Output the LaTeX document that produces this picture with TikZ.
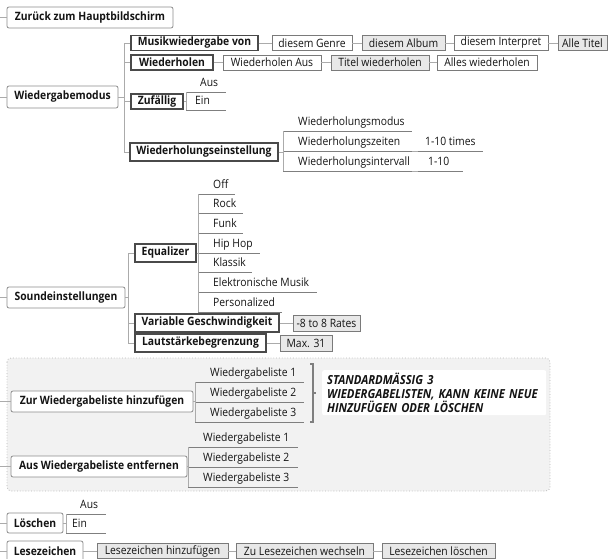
\documentclass[tikz,border=0pt]{standalone}
\usepackage{fontspec}
\setmainfont{Open Sans}[FakeStretch=0.9]
\definecolor{txt}{HTML}{141414}
\definecolor{cgray}{HTML}{ABABAB}
\definecolor{ugray}{HTML}{7F7F7F}
\definecolor{tgray}{HTML}{8C8C8C}
\definecolor{dgray}{HTML}{4A4A4A}
\definecolor{lgray}{HTML}{7A7A7A}
\definecolor{lfill}{HTML}{E8E8E8}
\definecolor{regfill}{HTML}{F2F2F2}
\definecolor{regline}{HTML}{B8B8B8}
\newcommand\utx[3]{\makebox[#2pt][l]{\hspace*{#1pt}#3}}
\begin{document}
\begin{tikzpicture}[x=1pt,y=-1pt,
  every node/.style={text=txt},
  font=\fontsize{11.5}{13}\selectfont,
  conn/.style={draw=cgray, line width=0.8pt},
  uline/.style={draw=ugray, line width=0.9pt},
  topbox/.style={draw=tgray, fill=white, rounded corners=2pt, line width=0.8pt, inner sep=0pt, font=\fontsize{11.5}{13}\selectfont\bfseries},
  subbox/.style={draw=dgray, fill=white, line width=1.2pt, inner sep=0pt, font=\fontsize{11.5}{13}\selectfont\bfseries},
  leafbox/.style={draw=lgray, fill=white, line width=0.8pt, inner sep=0pt},
  leafgray/.style={leafbox, fill=lfill},
  ut/.style={anchor=south west, inner sep=0pt, text height=8pt, text depth=5pt},
  brk/.style={draw=ugray, line width=1.2pt},
  notebox/.style={fill=white, rounded corners=2pt, inner xsep=5pt, inner ysep=0pt, anchor=north west, minimum width=224, minimum height=45, text width=214pt, align=left, font=\fontsize{12.5}{14}\selectfont\bfseries\itshape}
]
\useasboundingbox (0,0) rectangle (611,559);

% grouped region
\draw[dotted, draw=regline, fill=regfill, rounded corners=4pt, line width=0.8pt] (7,358) rectangle (550,491);

% top-level topics
\node[topbox, minimum width=166, minimum height=21] (zur) at (90,17.5) {Zurück zum Hauptbildschirm};
\node[topbox, minimum width=111, minimum height=22] (wgm) at (62.5,97) {Wiedergabemodus};
\node[topbox, minimum width=118, minimum height=21] (sound) at (66,297.5) {Soundeinstellungen};
\node[topbox, minimum width=182, minimum height=21] (zwl) at (102,401.5) {Zur Wiedergabeliste hinzufügen};
\node[topbox, minimum width=176, minimum height=21] (awl) at (99,466.5) {Aus Wiedergabeliste entfernen};
\node[topbox, minimum width=56, minimum height=20] (losch) at (35,523) {Löschen};
\node[topbox, minimum width=76, minimum height=20] (lese) at (45,551) {Lesezeichen};

% left stubs
\coordinate (s1) at (0,17.5);
\coordinate (s2) at (0,97);
\coordinate (s3) at (0,297.5);
\coordinate (s4) at (0,401.5);
\coordinate (s5) at (0,466.5);
\coordinate (s6) at (0,523);
\coordinate (s7) at (0,551);
\draw[conn] (s1) -- (zur.west);
\draw[conn] (s2) -- (wgm.west);
\draw[conn] (s3) -- (sound.west);
\draw[conn] (s4) -- (zwl.west);
\draw[conn] (s5) -- (awl.west);
\draw[conn] (s6) -- (losch.west);
\draw[conn] (s7) -- (lese.west);

% Wiedergabemodus
\node[subbox, minimum width=127, minimum height=15] (mwv) at (194.5,43) {Musikwiedergabe von};
\node[subbox, minimum width=82, minimum height=15] (wdh) at (172,62.5) {Wiederholen};
\node[subbox, minimum width=52, minimum height=15] (zuf) at (157,101.5) {Zufällig};
\node[subbox, minimum width=148, minimum height=18] (wde) at (204,152) {Wiederholungseinstellung};
\coordinate (wgmB) at (124,97);
\draw[conn] (wgm.east) -- (wgmB);
\draw[conn] (wgmB) |- (mwv.west);
\draw[conn] (wgmB) |- (wdh.west);
\draw[conn] (wgmB) |- (zuf.west);
\draw[conn] (wgmB) |- (wde.west);

\node[leafbox, minimum width=80, minimum height=15] (dg) at (312,43) {diesem Genre};
\node[leafgray, minimum width=83, minimum height=15] (da) at (403.5,43) {diesem Album};
\node[leafbox, minimum width=94, minimum height=15] (di) at (501,43) {diesem Interpret};
\node[leafgray, minimum width=49, minimum height=15] (at) at (582.5,43) {Alle Titel};
\draw[conn] (mwv.east) -- (dg.west);
\draw[conn] (dg.east) -- (da.west);
\draw[conn] (da.east) -- (di.west);
\draw[conn] (di.east) -- (at.west);

\node[leafbox, minimum width=98, minimum height=15] (wa) at (272,62.5) {Wiederholen Aus};
\node[leafgray, minimum width=98, minimum height=15] (tw) at (380,62.5) {Titel wiederholen};
\node[leafbox, minimum width=100, minimum height=15] (aw) at (487,62.5) {Alles wiederholen};
\draw[conn] (wdh.east) -- (wa.west);
\draw[conn] (wa.east) -- (tw.west);
\draw[conn] (tw.east) -- (aw.west);

\node[ut] (zaus) at (186,92) {\utx{14}{40}{Aus}};
\node[ut] (zein) at (186,110) {\utx{9}{40}{Ein}};
\draw[uline] (zaus.south west) -- (zaus.south east);
\draw[uline] (zein.south west) -- (zein.south east);
\coordinate (zufB) at (186,101.5);
\draw[conn] (zuf.east) -- (zufB);
\draw[conn] (zaus.south west) -- (zein.south west);

\node[ut] (wmod) at (283,131) {\utx{15}{129}{Wiederholungsmodus}};
\node[ut] (wzeit) at (283,151) {\utx{15}{129}{Wiederholungszeiten}};
\node[ut] (wint) at (283,171) {\utx{15}{129}{Wiederholungsintervall}};
\node[ut] (t110) at (418,151) {\utx{7}{65}{1-10 times}};
\node[ut] (i110) at (418,171) {\utx{10}{45}{1-10}};
\foreach \n in {wmod,wzeit,wint,t110,i110}{\draw[uline] (\n.south west) -- (\n.south east);}
\coordinate (wdeB) at (283,152);
\draw[conn] (wde.east) -- (wdeB);
\draw[conn] (wmod.south west) -- (wint.south west);
\draw[conn] (wzeit.south east) -- (t110.south west);
\draw[conn] (wint.south east) -- (i110.south west);

% Soundeinstellungen
\node[subbox, minimum width=61, minimum height=18] (eq) at (165.5,253) {Equalizer};
\node[subbox, minimum width=144, minimum height=18] (vg) at (207,323) {Variable Geschwindigkeit};
\node[subbox, minimum width=131, minimum height=18] (lb) at (200.5,343) {Lautstärkebegrenzung};
\coordinate (soundB) at (128,297.5);
\draw[conn] (sound.east) -- (soundB);
\draw[conn] (soundB) |- (eq.west);
\draw[conn] (soundB) |- (vg.west);
\draw[conn] (soundB) |- (lb.west);
\node[leafgray, minimum width=67, minimum height=16] (rates) at (326.5,323) {-8 to 8 Rates};
\node[leafgray, minimum width=52, minimum height=16] (max) at (306,343) {Max. 31};
\draw[conn] (vg.east) -- (rates.west);
\draw[conn] (lb.east) -- (max.west);

\node[ut] (off) at (198,194) {\utx{15}{37}{Off}};
\node[ut] (rock) at (198,213) {\utx{15}{45}{Rock}};
\node[ut] (funk) at (198,233) {\utx{15}{45}{Funk}};
\node[ut] (hip) at (198,253) {\utx{15}{62}{Hip Hop}};
\node[ut] (klas) at (198,272) {\utx{15}{54}{Klassik}};
\node[ut] (elek) at (198,292) {\utx{15}{119}{Elektronische Musik}};
\node[ut] (pers) at (198,312) {\utx{15}{84}{Personalized}};
\foreach \n in {off,rock,funk,hip,klas,elek,pers}{\draw[uline] (\n.south west) -- (\n.south east);}
\coordinate (eqB) at (198,253);
\draw[conn] (eq.east) -- (eqB);
\draw[conn] (off.south west) -- (pers.south west);

% Wiedergabeliste groups
\node[ut] (zw1) at (195,382) {\utx{15}{109}{Wiedergabeliste 1}};
\node[ut] (zw2) at (195,402) {\utx{15}{109}{Wiedergabeliste 2}};
\node[ut] (zw3) at (195,422) {\utx{15}{109}{Wiedergabeliste 3}};
\node[ut] (aw1) at (188,447) {\utx{15}{110}{Wiedergabeliste 1}};
\node[ut] (aw2) at (188,467) {\utx{15}{110}{Wiedergabeliste 2}};
\node[ut] (aw3) at (188,487) {\utx{15}{110}{Wiedergabeliste 3}};
\foreach \n in {zw1,zw2,zw3,aw1,aw2,aw3}{\draw[uline] (\n.south west) -- (\n.south east);}
\coordinate (zwlB) at (195,401.5);
\draw[conn] (zwl.east) -- (zwlB);
\draw[conn] (zw1.south west) -- (zw3.south west);
\coordinate (awlB) at (188,466.5);
\draw[conn] (awl.east) -- (awlB);
\draw[conn] (aw1.south west) -- (aw3.south west);

% bracket and note
\coordinate (bt) at (313,364);
\coordinate (bb) at (313,422);
\coordinate (bm) at (313,393);
\draw[brk] (310,364) -- (bt) -- (bb) -- (310,422);
\draw[brk] (bm) -- ++(3,0);
\node[notebox] (note) at (322,370) {STANDARDMÄSSIG 3\\WIEDERGABELISTEN, KANN KEINE NEUE\\HINZUFÜGEN ODER LÖSCHEN};

% Löschen
\node[ut] (laus) at (66,514) {\utx{14}{40}{Aus}};
\node[ut] (lein) at (66,533) {\utx{6}{40}{Ein}};
\draw[uline] (laus.south west) -- (laus.south east);
\draw[uline] (lein.south west) -- (lein.south east);
\coordinate (loschB) at (66,523);
\draw[conn] (losch.east) -- (loschB);
\draw[conn] (laus.south west) -- (lein.south west);

% Lesezeichen
\node[leafgray, minimum width=131, minimum height=15] (lh) at (162.5,551) {Lesezeichen hinzufügen};
\node[leafgray, minimum width=137, minimum height=15] (lw) at (304.5,551) {Zu Lesezeichen wechseln};
\node[leafgray, minimum width=113, minimum height=15] (ll) at (438.5,551) {Lesezeichen löschen};
\draw[conn] (lese.east) -- (lh.west);
\draw[conn] (lh.east) -- (lw.west);
\draw[conn] (lw.east) -- (ll.west);
\end{tikzpicture}
\end{document}
